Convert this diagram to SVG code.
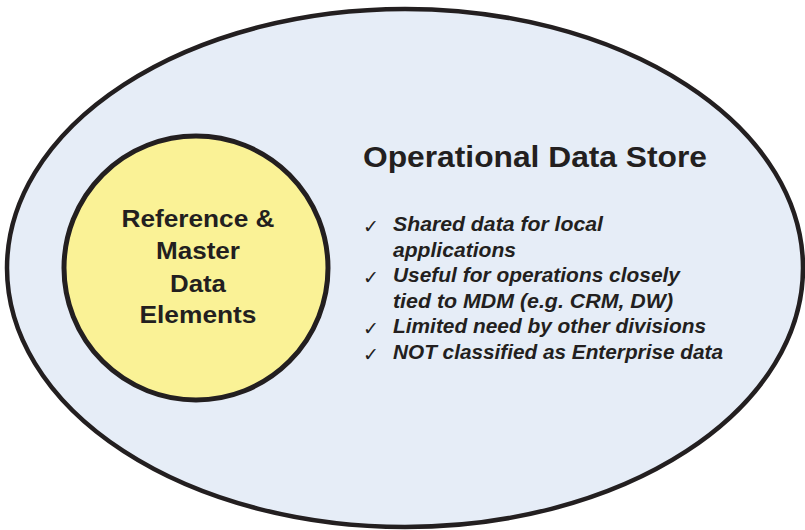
<svg xmlns="http://www.w3.org/2000/svg" width="805" height="530" viewBox="0 0 805 530">
<style>
.shape{stroke:#231F20;}
.t{font-family:"Liberation Sans",Arial,sans-serif;font-weight:bold;fill:#231F20;}
.c{font-size:24px;text-anchor:middle;}
.h{font-size:29px;}
.b{font-size:20.5px;font-style:italic;}
.ck{font-family:"DejaVu Sans",sans-serif;font-size:19px;fill:#231F20;}
</style>
<rect width="805" height="530" fill="#ffffff"/>
<g id="ods">
<ellipse class="shape" cx="405" cy="268" rx="398" ry="259" fill="#E6EDF7" stroke-width="4.5"/>
<text class="t h" x="363" y="167" textLength="344" lengthAdjust="spacingAndGlyphs">Operational Data Store</text>
<g id="bullets">
<text class="ck" x="363" y="233">✓</text>
<text class="t b" x="393" y="231" textLength="210" lengthAdjust="spacingAndGlyphs">Shared data for local</text>
<text class="t b" x="393" y="257" textLength="123" lengthAdjust="spacingAndGlyphs">applications</text>
<text class="ck" x="363" y="284">✓</text>
<text class="t b" x="393" y="282" textLength="287" lengthAdjust="spacingAndGlyphs">Useful for operations closely</text>
<text class="t b" x="393" y="308" textLength="280" lengthAdjust="spacingAndGlyphs">tied to MDM (e.g. CRM, DW)</text>
<text class="ck" x="363" y="335">✓</text>
<text class="t b" x="393" y="333" textLength="313" lengthAdjust="spacingAndGlyphs">Limited need by other divisions</text>
<text class="ck" x="363" y="361">✓</text>
<text class="t b" x="393" y="359" textLength="330" lengthAdjust="spacingAndGlyphs">NOT classified as Enterprise data</text>
</g>
</g>
<g id="rmd">
<circle class="shape" cx="196" cy="268" r="132" fill="#FAF296" stroke-width="5"/>
<text class="t c" x="198" y="227" textLength="153" lengthAdjust="spacingAndGlyphs">Reference &amp;</text>
<text class="t c" x="198" y="259" textLength="84" lengthAdjust="spacingAndGlyphs">Master</text>
<text class="t c" x="198" y="292" textLength="56" lengthAdjust="spacingAndGlyphs">Data</text>
<text class="t c" x="198" y="323" textLength="117" lengthAdjust="spacingAndGlyphs">Elements</text>
</g>
<g id="connectors"></g>
</svg>
